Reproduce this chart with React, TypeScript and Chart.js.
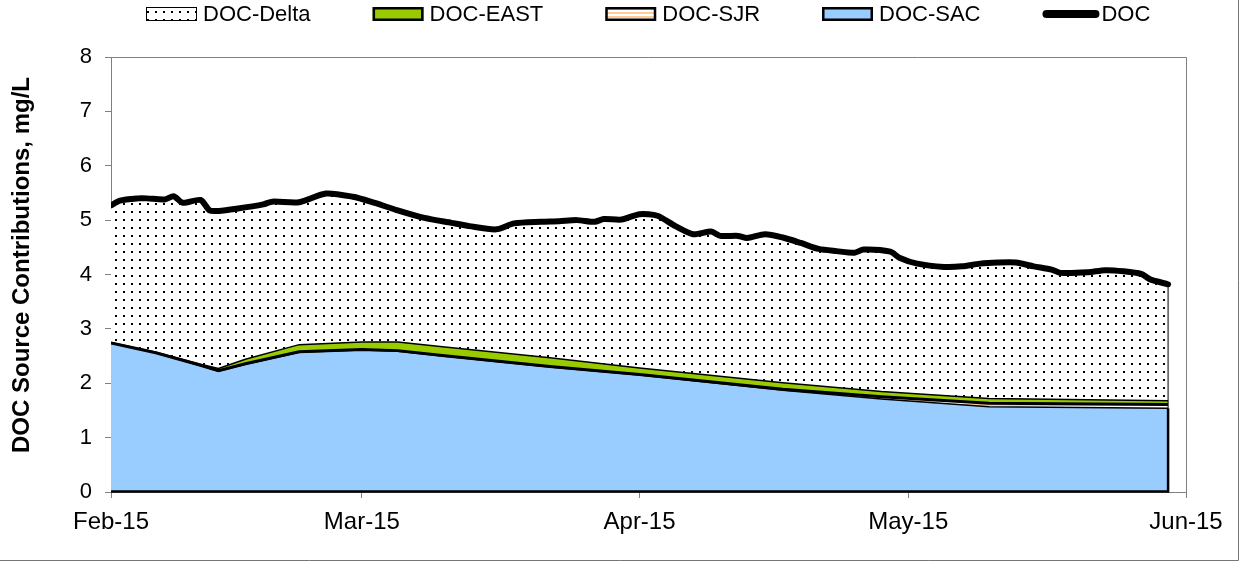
import React, { useEffect, useRef } from "react";
import { Chart, registerables } from "chart.js";

Chart.register(...registerables);

const FONT = '"Liberation Sans", Arial, Helvetica, sans-serif';

// x axis: days since 1 Feb 2015
const tickDays = [0, 28, 59, 89, 120];
const tickLabels = ["Feb-15", "Mar-15", "Apr-15", "May-15", "Jun-15"];

const seriesLabels = ["DOC-Delta", "DOC-EAST", "DOC-SJR", "DOC-SAC", "DOC"];
const yTitle = "DOC Source Contributions, mg/L";

// total DOC (black line, top of the stacked areas)
const docDays = [
  0, 1, 3, 4, 6, 7, 8, 10, 11, 12, 14, 17, 18, 21, 24, 27, 29, 32, 35, 38,
  40, 43, 45, 48, 50, 52, 54, 55, 57, 59, 61, 63, 65, 67, 68, 70, 71, 73, 75,
  77, 79, 81, 83, 84, 87, 88, 90, 93, 95, 97, 99, 101, 103, 105, 106, 109,
  111, 113, 115, 116, 118,
];
const docValues = [
  5.27, 5.36, 5.4, 5.4, 5.38, 5.44, 5.32, 5.37, 5.18, 5.17, 5.21, 5.29, 5.34,
  5.33, 5.49, 5.43, 5.34, 5.18, 5.04, 4.95, 4.89, 4.83, 4.94, 4.97, 4.98, 5.0,
  4.97, 5.02, 5.01, 5.11, 5.08, 4.89, 4.74, 4.79, 4.71, 4.71, 4.67, 4.74,
  4.68, 4.58, 4.47, 4.43, 4.4, 4.46, 4.42, 4.31, 4.2, 4.14, 4.15, 4.2, 4.22,
  4.22, 4.15, 4.09, 4.03, 4.04, 4.08, 4.06, 4.01, 3.91, 3.82,
];

// source components (stacked from bottom: SAC, SJR, EAST)
const compDays = [0, 5, 10, 12, 15, 21, 28, 32, 37, 49, 59, 75, 86, 98, 118];
const sacValues = [
  2.74, 2.56, 2.32, 2.22, 2.35, 2.57, 2.61, 2.59, 2.5, 2.3, 2.15, 1.87, 1.71,
  1.57, 1.54,
];
const sjrValues = [
  0, 0, 0.01, 0.01, 0.01, 0.01, 0.01, 0.01, 0.01, 0.01, 0.01, 0.02, 0.04, 0.06,
  0.07,
];
const eastValues = [
  0.01, 0.01, 0.02, 0.04, 0.08, 0.13, 0.14, 0.16, 0.16, 0.16, 0.12, 0.12, 0.1,
  0.09, 0.07,
];

function makeTile(w: number, h: number, draw: (g: CanvasRenderingContext2D) => void) {
  const c = document.createElement("canvas");
  c.width = w;
  c.height = h;
  const g = c.getContext("2d")!;
  draw(g);
  return c;
}

export default function App() {
  const ref = useRef<HTMLCanvasElement>(null);

  useEffect(() => {
    const canvas = ref.current!;
    const ctx = canvas.getContext("2d")!;

    const dotTile = makeTile(8, 8, (g) => {
      g.fillStyle = "#ffffff";
      g.fillRect(0, 0, 8, 8);
      g.fillStyle = "#000000";
      g.fillRect(3, 3, 2, 2);
    });
    const dotPattern = ctx.createPattern(dotTile, "repeat")!;
    const stripeTile = makeTile(4, 4, (g) => {
      g.fillStyle = "#ffffff";
      g.fillRect(0, 0, 4, 4);
      g.fillStyle = "#FFCC99";
      g.fillRect(0, 0, 4, 2);
    });
    const stripePattern = ctx.createPattern(stripeTile, "repeat")!;

    const sacTop = compDays.map((d, i) => ({ x: d, y: sacValues[i] }));
    const sjrTop = compDays.map((d, i) => ({ x: d, y: sacValues[i] + sjrValues[i] }));
    const eastTop = compDays.map((d, i) => ({
      x: d,
      y: sacValues[i] + sjrValues[i] + eastValues[i],
    }));
    const docPts = docDays.map((d, i) => ({ x: d, y: docValues[i] }));

    const legendStyles = [
      { fill: dotPattern as any, border: 1, line: false },
      { fill: "#99CC00", border: 2.5, line: false },
      { fill: stripePattern as any, border: 2.5, line: false },
      { fill: "#99CCFF", border: 2.5, line: false },
      { fill: "#000000", border: 0, line: true },
    ];

    const decor = {
      id: "decor",
      afterDraw(chart: any) {
        const c = chart.ctx as CanvasRenderingContext2D;
        const { left, right, top, bottom } = chart.chartArea;
        const xs = chart.scales.x;
        const ys = chart.scales.y;
        c.save();
        // plot-area top and right border
        c.strokeStyle = "#808080";
        c.lineWidth = 1;
        c.beginPath();
        c.moveTo(left, top + 0.5);
        c.lineTo(right + 0.5, top + 0.5);
        c.lineTo(right + 0.5, bottom);
        c.stroke();

        // area outline at the base and the right end of the data
        const firstDay = compDays[0];
        const lastDay = compDays[compDays.length - 1];
        const xl = xs.getPixelForValue(firstDay);
        const xr = xs.getPixelForValue(lastDay);
        const y0 = ys.getPixelForValue(0);
        const ySac = ys.getPixelForValue(sacValues[sacValues.length - 1]);
        const yDoc = ys.getPixelForValue(docValues[docValues.length - 1]);
        c.strokeStyle = "#000000";
        c.lineWidth = 2.5;
        c.beginPath();
        c.moveTo(xl, y0 - 0.5);
        c.lineTo(xr, y0 - 0.5);
        c.lineTo(xr, ySac);
        c.stroke();
        c.lineWidth = 1;
        c.beginPath();
        c.moveTo(xr, ySac);
        c.lineTo(xr, yDoc);
        c.stroke();

        // outer frame
        c.strokeStyle = "#767676";
        c.lineWidth = 1;
        c.beginPath();
        c.moveTo(1238.5, 0);
        c.lineTo(1238.5, 560.5);
        c.lineTo(0, 560.5);
        c.stroke();

        // y axis title
        c.save();
        c.translate(22, 265);
        c.rotate(-Math.PI / 2);
        c.font = `bold 24px ${FONT}`;
        c.fillStyle = "#000000";
        c.textAlign = "center";
        c.textBaseline = "middle";
        c.fillText(yTitle, 0, 0);
        c.restore();

        // legend
        c.font = `22px ${FONT}`;
        c.textBaseline = "middle";
        c.textAlign = "left";
        const yc = 14;
        let x = 146;
        chart.data.datasets.forEach((ds: any, i: number) => {
          const st = legendStyles[i];
          if (st.line) {
            c.strokeStyle = "#000000";
            c.lineWidth = 8;
            c.lineCap = "round";
            c.beginPath();
            c.moveTo(x + 4, yc);
            c.lineTo(x + 53, yc);
            c.stroke();
            c.lineCap = "butt";
          } else {
            c.fillStyle = st.fill;
            c.fillRect(x, yc - 7, 51, 14);
            c.strokeStyle = "#000000";
            c.lineWidth = st.border;
            const h = st.border / 2;
            c.strokeRect(x + h, yc - 7 + h, 51 - st.border, 14 - st.border);
          }
          c.fillStyle = "#000000";
          const tx = x + (st.line ? 59 : 57);
          c.fillText(ds.label, tx, yc + 1);
          x = tx + c.measureText(ds.label).width + 62;
        });
        c.restore();
      },
    };

    const chart = new Chart(canvas, {
      type: "line",
      data: {
        datasets: [
          {
            label: seriesLabels[0],
            data: docPts,
            backgroundColor: dotPattern as any,
            borderWidth: 0,
            borderColor: "rgba(0,0,0,0)",
            fill: 1,
            tension: 0.25,
            order: 1,
          },
          {
            label: seriesLabels[1],
            data: eastTop,
            backgroundColor: "#99CC00",
            borderColor: "#000000",
            borderWidth: 1.5,
            fill: 2,
            tension: 0,
            order: 2,
          },
          {
            label: seriesLabels[2],
            data: sjrTop,
            backgroundColor: stripePattern as any,
            borderColor: "#000000",
            borderWidth: 3,
            fill: 3,
            tension: 0,
            order: 3,
          },
          {
            label: seriesLabels[3],
            data: sacTop,
            backgroundColor: "#99CCFF",
            borderColor: "#000000",
            borderWidth: 1.5,
            fill: "origin",
            tension: 0,
            order: 4,
          },
          {
            label: seriesLabels[4],
            data: docPts,
            borderColor: "#000000",
            borderWidth: 6,
            borderJoinStyle: "round",
            borderCapStyle: "round",
            fill: false,
            tension: 0.25,
            order: 0,
          },
        ] as any,
      },
      options: {
        animation: false,
        responsive: false,
        devicePixelRatio: 1,
        layout: { padding: { top: 57, right: 55, bottom: 25, left: 0 } },
        elements: { point: { radius: 0, hoverRadius: 0 } },
        plugins: {
          legend: { display: false },
          tooltip: { enabled: false },
          filler: { drawTime: "beforeDatasetsDraw", propagate: false },
        } as any,
        scales: {
          x: {
            type: "linear",
            min: 0,
            max: 120,
            afterBuildTicks: (s: any) => {
              s.ticks = tickDays.map((v) => ({ value: v }));
            },
            afterFit: (s: any) => {
              s.height = 45;
            },
            ticks: {
              autoSkip: false,
              maxRotation: 0,
              padding: 10,
              color: "#000000",
              font: { family: FONT, size: 24 },
              callback: (_v: any, i: number) => tickLabels[i],
            },
            grid: {
              display: true,
              drawOnChartArea: false,
              drawTicks: true,
              tickLength: 6,
              color: "#808080",
            },
            border: { display: true, color: "#808080", width: 1 },
          },
          y: {
            min: 0,
            max: 8,
            afterFit: (s: any) => {
              s.width = 111;
            },
            ticks: {
              stepSize: 1,
              padding: 13,
              color: "#000000",
              font: { family: FONT, size: 22 },
            },
            grid: {
              display: true,
              drawOnChartArea: false,
              drawTicks: true,
              tickLength: 6,
              color: "#808080",
            },
            border: { display: true, color: "#808080", width: 1 },
          },
        } as any,
      },
      plugins: [decor],
    });

    return () => chart.destroy();
  }, []);

  return (
    <div
      style={{
        position: "absolute",
        left: 0,
        top: 0,
        width: 1241,
        height: 562,
        background: "#ffffff",
      }}
    >
      <canvas ref={ref} width={1241} height={562} style={{ display: "block" }} />
    </div>
  );
}
